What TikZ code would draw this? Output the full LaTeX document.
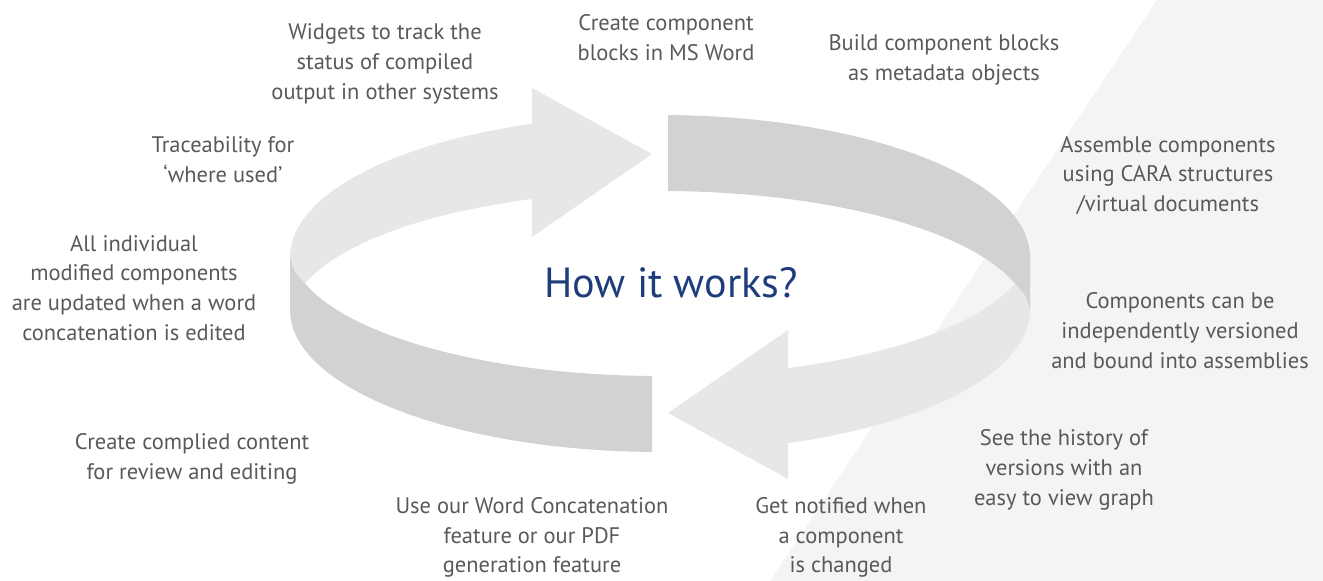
\documentclass[tikz,border=0pt]{standalone}
\usepackage{fontspec}
\setmainfont{PT Sans}
\usepackage{tikz}
\usetikzlibrary{positioning, calc}

\definecolor{label_grey}{HTML}{58595B}
\definecolor{title_blue}{HTML}{1F3D7C}
\definecolor{ring_light}{HTML}{E6E7E8}
\definecolor{ring_dark}{HTML}{D1D2D4}
\definecolor{backdrop_grey}{HTML}{F4F4F5}

\begin{document}
\begin{tikzpicture}[
            x=0.02cm, y=-0.02cm,
            step_label/.style={text=label_grey, align=center, inner sep=0pt, font=\fontsize{12.8}{17}\selectfont},
            title_label/.style={text=title_blue, inner sep=0pt, font=\fontsize{24}{29}\selectfont},
            light_arrow/.style={fill=ring_light},
            dark_band/.style={fill=ring_dark},
            backdrop/.style={fill=backdrop_grey}
        ]
    \useasboundingbox (0,0) rectangle (1323,581);

    % faint panel behind the right hand labels
    \fill[backdrop] (1157,0) -- (1323,0) -- (1323,581) -- (770,581) -- cycle;

    \coordinate (ring_centre) at (660,283.5);

    % two halves of the ring, the second one turned round the centre
    \foreach \turn in {0,180} {
        \begin{scope}[rotate around={\turn:(ring_centre)}]
            \path[light_arrow] (290,257)
              arc[start angle=180, end angle=249.76, x radius=370, y radius=142]
              -- (532,88) -- (652,154) -- (532,237) -- (532,199)
              arc[start angle=249.76, end angle=196.43, x radius=370, y radius=129]
              .. controls (294,272) .. (290,257) -- cycle;
            \path[dark_band] (290,257) -- (290,310)
              arc[start angle=180, end angle=91.24, x radius=370, y radius=142]
              -- (652,376)
              arc[start angle=91.24, end angle=163.57, x radius=370, y radius=129]
              .. controls (294,272) .. (290,257) -- cycle;
        \end{scope}
    }

    \node[title_label] (how_title) at (671,283) {How it works?};

    \node[step_label] (create_blocks) at (666,37.5) {Create component\\blocks in MS Word};
    \node[step_label] (build_blocks) at (944,60) {Build component blocks\\as metadata objects};
    \node[step_label] (assemble) at (1168,175.5) {Assemble components\\using CARA structures\\/virtual documents};
    \node[step_label] (versioned) at (1180,330.5) {Components can be\\independently versioned\\and bound into assemblies};
    \node[step_label] (history) at (1064,470) {See the history of\\versions with an\\easy to view graph};
    \node[step_label] (notified) at (841,537.5) {Get notified when\\a component\\is changed};
    \node[step_label] (concatenation) at (532,537.5) {Use our Word Concatenation\\feature or our PDF\\generation feature};
    \node[step_label] (complied) at (192,459) {Create complied content\\for review and editing};
    \node[step_label] (updated) at (134,288) {All individual\\modified components\\are updated when a word\\concatenation is edited};
    \node[step_label] (traceability) at (223,159.5) {Traceability for\\‘where used’};
    \node[step_label] (widgets) at (385,64) {Widgets to track the\\status of compiled\\output in other systems};

\end{tikzpicture}
\end{document}
